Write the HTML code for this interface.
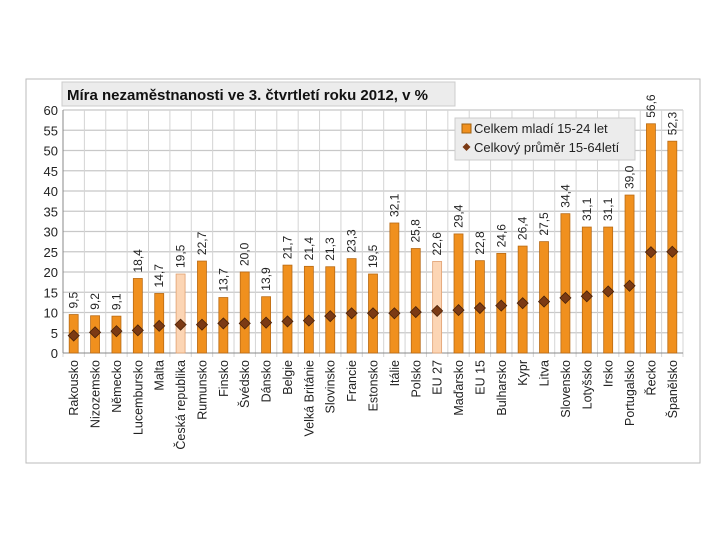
<!DOCTYPE html>
<html><head><meta charset="utf-8"><style>
body{margin:0;background:#fff;}
svg{display:block;font-family:"Liberation Sans","DejaVu Sans",sans-serif;}
</style></head><body>
<svg id="c" width="720" height="540">
<rect x="26" y="79" width="674" height="384" fill="#fff" stroke="#bbb"/>
<g id="grid"></g><g id="bars"></g><g id="marks"></g><g id="labels"></g>
<rect x="62" y="82" width="393" height="24" fill="#ececec" stroke="#ccc"/>
<text x="67" y="100" font-size="15" font-weight="bold" fill="#111">Míra nezaměstnanosti  ve 3. čtvrtletí roku 2012, v %</text>
<g>
<rect x="455" y="118" width="180" height="42" fill="#ececec" stroke="#ccc"/>
<rect x="462" y="124" width="9" height="9" fill="#f0901e" stroke="#a0600f"/>
<text x="474" y="133" font-size="13" fill="#222">Celkem mladí 15-24 let</text>
<path d="M466.5 143 l4 4 -4 4 -4 -4z" fill="#7b3a14"/>
<text x="474" y="152" font-size="13" fill="#222">Celkový průměr 15-64letí</text>
</g>
</svg>
<script>
const categories=["Rakousko","Nizozemsko","Německo","Lucembursko","Malta","Česká republika","Rumunsko","Finsko","Švédsko","Dánsko","Belgie","Velká Británie","Slovinsko","Francie","Estonsko","Itálie","Polsko","EU 27","Maďarsko","EU 15","Bulharsko","Kypr","Litva","Slovensko","Lotyšsko","Irsko","Portugalsko","Řecko","Španělsko"];
const youth=[9.5,9.2,9.1,18.4,14.7,19.5,22.7,13.7,20.0,13.9,21.7,21.4,21.3,23.3,19.5,32.1,25.8,22.6,29.4,22.8,24.6,26.4,27.5,34.4,31.1,31.1,39.0,56.6,52.3];
const total=[4.3,5.1,5.4,5.6,6.7,7.0,7.0,7.3,7.3,7.5,7.8,8.0,9.1,9.8,9.8,9.8,10.1,10.4,10.6,11.1,11.7,12.3,12.7,13.6,14.0,15.2,16.6,24.9,25.0];
const highlighted=["Česká republika","EU 27"];
const yTicks=[0,5,10,15,20,25,30,35,40,45,50,55,60];
const NS="http://www.w3.org/2000/svg";
const X0=63,X1=683,Y0=353,Y1=110,YMAX=60;
const bw=(X1-X0)/categories.length;
const y=v=>Y0-(v/YMAX)*(Y0-Y1);
const xc=i=>X0+bw*(i+0.5);
function mk(p,t,a){const e=document.createElementNS(NS,t);for(const k in a)e.setAttribute(k,a[k]);document.getElementById(p).appendChild(e);return e;}
yTicks.forEach(t=>{
 const l=mk('grid','line',{x1:X0,x2:X1,y1:y(t),y2:y(t),stroke:'#c8c8c8','stroke-width':t===0?1:1.2});
 
 
 const tx=mk('grid','text',{x:X0-5,y:y(t)+5,'text-anchor':'end','font-size':13,fill:'#222'});
 tx.textContent=t;
 
 
});
for(let i=0;i<=categories.length;i++){
 const gx=X0+bw*i;
 const l=mk('grid','line',{x1:gx,x2:gx,y1:Y1,y2:Y0+4,stroke:'#d4d4d4'});
 
 
}
mk('grid','line',{x1:X0,x2:X0,y1:Y1,y2:Y0,stroke:'#888'});
mk('grid','line',{x1:X0,x2:X1,y1:Y0,y2:Y0,stroke:'#888'});
categories.forEach((c,i)=>{
 const hl=highlighted.includes(c);
 const b=mk('bars','rect',{x:xc(i)-4.5,y:y(youth[i]),width:9,height:Y0-y(youth[i]),fill:hl?'#fcd5b4':'#f0901e',stroke:hl?'#e0a070':'#b86a14','stroke-width':0.8});
 
 
 const vx=xc(i)+4,vy=y(youth[i])-6;
 const v=mk('labels','text',{x:vx,y:vy,transform:`rotate(-90 ${vx} ${vy})`,'font-size':12,fill:'#222'});
 v.textContent=youth[i].toFixed(1).replace('.',',');
 
 
 const cx=xc(i)+4.5,cy=360;
 const cl=mk('labels','text',{x:cx,y:cy,transform:`rotate(-90 ${cx} ${cy})`,'text-anchor':'end','font-size':12.5,fill:'#222'});
 cl.textContent=c;
 
 
 const py=y(total[i]),px=xc(i);
 const d=mk('marks','path',{d:`M${px} ${py-5.5} L${px+5.5} ${py} L${px} ${py+5.5} L${px-5.5} ${py}Z`,fill:'#7b3a14',stroke:'#4a2208','stroke-width':0.8});
 
 
});
</script>
</body></html>
